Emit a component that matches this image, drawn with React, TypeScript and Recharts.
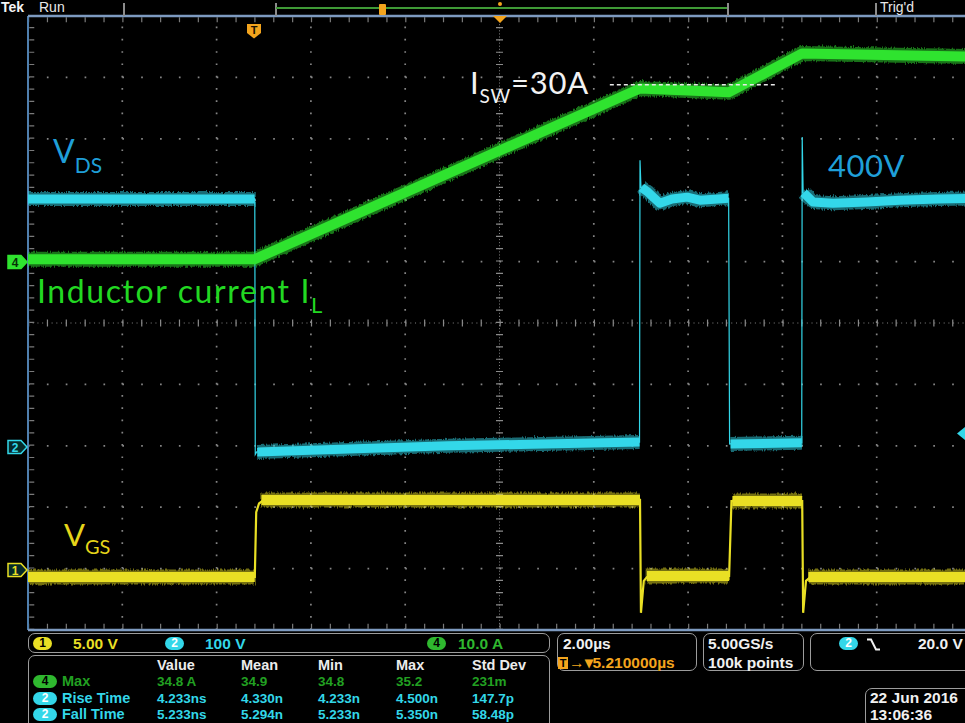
import { ComposedChart, Line, ReferenceLine, XAxis, YAxis } from "recharts";

const CH1 = "#e9df24";
const CH2 = "#33d7e9";
const CH4 = "#2fe32f";
const ORANGE = "#f3a41d";
const FRAME = "#7d9ac0";
const GRID = "#858585";
const BOX = "#9c9c9c";
const UI = '"Liberation Sans", Arial, sans-serif';
const ANNO = 'Lato, "Open Sans", sans-serif';

// 10 x 10 div graticule, 2 us/div, time counted from the left edge of the screen
const gridTimes = [0, 2, 4, 6, 8, 10, 12, 14, 16, 18, 20];
// rows follow the ch1 scale (5 V/div, ground marker 4 div below centre)
const gridVolts = [-5, 0, 5, 10, 15, 20, 25, 30, 35, 40, 45];

const ch1Domain = [-5, 45]; // 5 V/div
const ch2Domain = [-300, 700]; // 100 V/div
const ch4Domain = [-60, 40]; // 10 A/div

// ch1 V_GS (V)
const vgsTime = [0, 4.81, 4.84, 4.9, 5.0, 12.98, 13.0, 13.06, 13.15, 14.87, 14.92, 16.42, 16.44, 16.5, 16.6, 20];
const vgsVolts = [-0.68, -0.68, 4.6, 5.3, 5.59, 5.59, -3.6, -1.0, -0.6, -0.6, 5.5, 5.5, -3.6, -1.0, -0.68, -0.68];
// settled (noisy, thick) parts, null = gap
const vgsBandTime = [0, 4.81, 4.82, 4.95, 12.98, 12.99, 13.12, 14.87, 14.88, 14.94, 16.42, 16.43, 16.55, 20];
const vgsBandVolts = [-0.68, -0.68, null, 5.59, 5.59, null, -0.6, -0.6, null, 5.5, 5.5, null, -0.68, -0.68];

// ch2 V_DS (V)
const vdsTime = [0, 4.81, 4.82, 4.85, 8.9, 12.97, 12.98, 13.0, 13.15, 13.4, 13.66, 13.98, 14.25, 14.86, 14.88, 16.41, 16.42, 16.44, 16.65, 17.07, 17.79, 18.49, 19.3, 20];
const vdsVolts = [402, 402, -14, -10, 0, 6, 465, 421, 413, 395, 402, 405, 400, 403, 3, 5, 503, 412, 397, 395, 397, 400, 402, 403];
const vdsBandTime = [0, 4.81, 4.83, 4.86, 8.9, 12.97, 12.99, 13.01, 13.15, 13.4, 13.66, 13.98, 14.25, 14.86, 14.87, 14.9, 16.41, 16.42, 16.45, 16.65, 17.07, 17.79, 18.49, 19.3, 20];
const vdsBandVolts = [402, 402, null, -10, 0, 6, null, 421, 413, 395, 402, 405, 400, 403, null, 3, 5, null, 412, 397, 395, 397, 400, 402, 403];

// ch4 inductor current (A)
const ilTime = [0, 4.81, 12.98, 14.87, 16.42, 20];
const ilAmps = [0.4, 0.4, 28.2, 27.6, 33.9, 33.4];

// I_SW marker line
const iswAmps = 28.8;
const iswFrom = 12.34;
const iswTo = 15.84;

// measurement table
const measHeaders = ["Value", "Mean", "Min", "Max", "Std Dev"];
const measLabels = ["Max", "Rise Time", "Fall Time"];
const measChannels = ["4", "2", "2"];
const maxValues = ["34.8 A", "34.9", "34.8", "35.2", "231m"];
const riseValues = ["4.233ns", "4.330n", "4.233n", "4.500n", "147.7p"];
const fallValues = ["5.233ns", "5.294n", "5.233n", "5.350n", "58.48p"];
const measColX = [157, 241, 318, 396, 472];
const measRowY = [674, 691, 707];

const zip = (ts: number[], vs: (number | null)[]) => ts.map((t, i) => ({ t, v: vs[i] }));

function Txt({ x, y, c = "#eee", s = 15.5, w = 700, f = UI, ls = 0, children }: any) {
  return (
    <div style={{ position: "absolute", left: x, top: y, color: c, fontSize: s, fontWeight: w, fontFamily: f, letterSpacing: ls, lineHeight: 1, whiteSpace: "nowrap" }}>
      {children}
    </div>
  );
}

function Box({ x, y, w, h }: any) {
  return (
    <div style={{ position: "absolute", left: x, top: y, width: w, height: h, border: `1.5px solid ${BOX}`, borderRadius: 7, boxSizing: "border-box" }} />
  );
}

function Badge({ x, y, w = 19, h = 13, bg, fg = "#000", label }: any) {
  return (
    <div style={{ position: "absolute", left: x, top: y, width: w, height: h, borderRadius: h / 2, background: bg, color: fg, fontFamily: UI, fontWeight: 700, fontSize: 12, lineHeight: `${h}px`, textAlign: "center" }}>
      {label}
    </div>
  );
}

function ChMarker({ y, color, label, filled }: any) {
  return (
    <svg style={{ position: "absolute", left: 7, top: y - 8 }} width={22} height={16}>
      <path d="M1,1.5 H14 L20,8 L14,14.5 H1 Z" fill={filled ? color : "#062a2a"} stroke={color} strokeWidth={1.5} />
      <text x={8} y={12.5} fontSize={12} fontWeight={700} fontFamily={UI} textAnchor="middle" fill={filled ? "#063006" : color}>
        {label}
      </text>
    </svg>
  );
}

function band(key: string, axis: string, data: any[], color: string, width: number) {
  return [
    <Line key={key + "o"} yAxisId={axis} data={data} dataKey="v" type="linear" stroke={color} strokeOpacity={0.5} strokeWidth={width + 5} strokeLinejoin="round" filter="url(#scopeNoise)" dot={false} activeDot={false} isAnimationActive={false} />,
    <Line key={key + "c"} yAxisId={axis} data={data} dataKey="v" type="linear" stroke={color} strokeWidth={width} strokeLinejoin="round" dot={false} activeDot={false} isAnimationActive={false} />,
  ];
}

function thin(key: string, axis: string, data: any[], color: string, width: number) {
  return <Line key={key} yAxisId={axis} data={data} dataKey="v" type="linear" stroke={color} strokeWidth={width} dot={false} activeDot={false} isAnimationActive={false} />;
}

export default function App() {
  const vgs = zip(vgsTime, vgsVolts);
  const vgsBand = zip(vgsBandTime, vgsBandVolts);
  const vds = zip(vdsTime, vdsVolts);
  const vdsBand = zip(vdsBandTime, vdsBandVolts);
  const il = zip(ilTime, ilAmps);
  const measValues = [maxValues, riseValues, fallValues];
  const innerTimes = gridTimes.filter((t) => t > 0 && t < 20 && t !== 10);
  const innerVolts = gridVolts.filter((v) => v > -5 && v < 45 && v !== 20);

  return (
    <div style={{ position: "fixed", left: 0, top: 0, width: 965, height: 723, background: "#000", overflow: "hidden", fontFamily: UI }}>
      <svg width={0} height={0} style={{ position: "absolute" }}>
        <defs>
          <filter id="scopeNoise" x="-5%" y="-40%" width="110%" height="180%">
            <feTurbulence type="fractalNoise" baseFrequency="0.9 0.08" numOctaves={2} seed={3} result="n" />
            <feDisplacementMap in="SourceGraphic" in2="n" scale={5} xChannelSelector="R" yChannelSelector="G" />
          </filter>
        </defs>
      </svg>
      <div style={{ position: "absolute", left: 0, top: 0 }}>
        <ComposedChart width={975} height={723} margin={{ top: 16, right: 4, bottom: 93, left: 28 }}>
          <XAxis type="number" dataKey="t" domain={[0, 20]} allowDataOverflow hide />
          <YAxis yAxisId="ch1" type="number" domain={ch1Domain} allowDataOverflow hide />
          <YAxis yAxisId="ch2" type="number" domain={ch2Domain} allowDataOverflow hide />
          <YAxis yAxisId="ch4" type="number" domain={ch4Domain} allowDataOverflow hide />

          {/* dotted graticule */}
          {innerTimes.map((t) => (
            <ReferenceLine key={"gx" + t} yAxisId="ch1" x={t} stroke={GRID} strokeWidth={1.7} strokeDasharray="1.7 10.58" />
          ))}
          {innerVolts.map((v) => (
            <ReferenceLine key={"gy" + v} yAxisId="ch1" y={v} stroke={GRID} strokeWidth={1.7} strokeDasharray="1.7 17.16" />
          ))}

          {/* centre cross with minor ticks */}
          <ReferenceLine yAxisId="ch1" x={10} stroke={GRID} strokeWidth={1} strokeDasharray="1 2.07" />
          <ReferenceLine yAxisId="ch1" x={10} stroke="#8a8a8a" strokeWidth={7} strokeDasharray="1.2 11.08" />
          <ReferenceLine yAxisId="ch1" y={20} stroke={GRID} strokeWidth={1} strokeDasharray="1 3.72" />
          <ReferenceLine yAxisId="ch1" y={20} stroke="#8a8a8a" strokeWidth={7} strokeDasharray="1.2 17.66" />

          {/* frame and its ticks */}
          <ReferenceLine yAxisId="ch1" x={0.08} stroke="#7a7a7a" strokeWidth={5} strokeDasharray="1.2 11.08" />
          <ReferenceLine yAxisId="ch1" y={44.7} stroke="#7a7a7a" strokeWidth={5} strokeDasharray="1.2 17.66" />
          <ReferenceLine yAxisId="ch1" y={-4.7} stroke="#7a7a7a" strokeWidth={5} strokeDasharray="1.2 17.66" />
          <ReferenceLine yAxisId="ch1" x={0} stroke="#4f7fae" strokeWidth={2} />
          <ReferenceLine yAxisId="ch1" y={45} stroke={FRAME} strokeWidth={2.5} />
          <ReferenceLine yAxisId="ch1" y={-5} stroke={FRAME} strokeWidth={2.5} />

          {thin("vgsPath", "ch1", vgs, CH1, 2.2)}
          {band("vgsBand", "ch1", vgsBand, CH1, 10)}
          {thin("vdsPath", "ch2", vds, CH2, 1.2)}
          {band("vdsBand", "ch2", vdsBand, CH2, 9)}
          {band("il", "ch4", il, CH4, 10)}

          <ReferenceLine yAxisId="ch4" segment={[{ x: iswFrom, y: iswAmps }, { x: iswTo, y: iswAmps }]} stroke="#e8e8e8" strokeWidth={1.3} strokeDasharray="4 3" />
        </ComposedChart>
      </div>

      {/* status bar */}
      <Txt x={1} y={0} s={14} c="#f4f4f4">Tek</Txt>
      <Txt x={39} y={0} s={14} w={400} c="#e8e8e8">Run</Txt>
      <Txt x={880} y={0} s={14} w={400} c="#e8e8e8">Trig'd</Txt>
      <div style={{ position: "absolute", left: 123, top: 3, width: 1.5, height: 13, background: "#8c8c8c" }} />
      <div style={{ position: "absolute", left: 275, top: 3, width: 1.5, height: 13, background: "#8c8c8c" }} />
      <div style={{ position: "absolute", left: 727, top: 3, width: 1.5, height: 13, background: "#8c8c8c" }} />
      <div style={{ position: "absolute", left: 875, top: 3, width: 1.5, height: 13, background: "#8c8c8c" }} />
      <div style={{ position: "absolute", left: 276, top: 7, width: 451, height: 1.5, background: "#3f9a36" }} />
      <div style={{ position: "absolute", left: 379, top: 4, width: 7, height: 11, background: ORANGE, borderRadius: 1 }} />
      <div style={{ position: "absolute", left: 498, top: 2, width: 4, height: 4, background: ORANGE, borderRadius: 2 }} />
      <svg style={{ position: "absolute", left: 493, top: 16 }} width={14} height={8}>
        <path d="M0,0 H14 L7,7 Z" fill={ORANGE} />
      </svg>
      <svg style={{ position: "absolute", left: 246, top: 23 }} width={16} height={16}>
        <path d="M1,1 H15 V10 L8,15.5 L1,10 Z" fill={ORANGE} />
        <text x={8} y={11} fontSize={11} fontWeight={700} fontFamily={UI} textAnchor="middle" fill="#1a1000">T</text>
      </svg>

      {/* channel markers */}
      <ChMarker y={262} color={CH4} label="4" filled />
      <ChMarker y={447} color={CH2} label="2" />
      <ChMarker y={570} color={CH1} label="1" />
      <svg style={{ position: "absolute", left: 956, top: 427 }} width={9} height={13}>
        <path d="M9,0 L1,6.5 L9,13 Z" fill={CH2} />
      </svg>

      {/* annotations */}
      <Txt x={53} y={134.6} s={32} w={400} f={ANNO} c="#1f9fd8">
        V<span style={{ fontSize: 21, position: "relative", top: 10 }}>DS</span>
      </Txt>
      <Txt x={37} y={274.6} s={32} w={400} f={ANNO} ls={1.6} c="#22d822">
        Inductor current I<span style={{ fontSize: 22, position: "relative", top: 10 }}>L</span>
      </Txt>
      <Txt x={470} y={66.7} s={31} w={400} f={ANNO} ls={0.8} c="#f2f2f2">
        I<span style={{ fontSize: 19, position: "relative", top: 9 }}>SW</span>=30A
      </Txt>
      <Txt x={828} y={149.7} s={31} w={400} f={ANNO} ls={0.5} c="#1f9fd8">400V</Txt>
      <Txt x={64} y={518.7} s={31} w={400} f={ANNO} c="#e6d51a">
        V<span style={{ fontSize: 20, position: "relative", top: 8 }}>GS</span>
      </Txt>

      {/* channel scale row */}
      <Box x={28} y={633} w={522} h={20} />
      <Badge x={33} y={637} bg={CH1} label="1" />
      <Txt x={73} y={636} c={CH1}>5.00 V</Txt>
      <Badge x={165} y={637} bg={CH2} fg="#fff" label="2" />
      <Txt x={205} y={636} c={CH2}>100 V</Txt>
      <Badge x={427} y={637} bg="#2fb82f" label="4" />
      <Txt x={458} y={636} c="#2fb82f">10.0 A</Txt>

      {/* timebase / acquisition / trigger */}
      <Box x={557} y={633} w={140} h={38} />
      <Txt x={563} y={636} c="#f0f0f0">2.00µs</Txt>
      <div style={{ position: "absolute", left: 558, top: 657, width: 10, height: 12, background: ORANGE, color: "#000", fontSize: 11, fontWeight: 700, lineHeight: "12px", textAlign: "center", fontFamily: UI }}>T</div>
      <Txt x={569} y={655} c={ORANGE}>→▾5.210000µs</Txt>
      <Box x={703} y={633} w={101} h={38} />
      <Txt x={708} y={636} c="#f0f0f0">5.00GS/s</Txt>
      <Txt x={708} y={655} c="#f0f0f0">100k points</Txt>
      <Box x={810} y={633} w={170} h={38} />
      <Badge x={839} y={637} bg={CH2} fg="#fff" label="2" />
      <svg style={{ position: "absolute", left: 867, top: 638 }} width={13} height={13}>
        <path d="M0,1.5 H4 L9,11.5 H13" stroke="#f0f0f0" strokeWidth={2} fill="none" />
      </svg>
      <Txt x={918} y={636} c="#f0f0f0">20.0 V</Txt>

      {/* measurements */}
      <Box x={28} y={655} w={522} h={80} />
      {measHeaders.map((h, i) => (
        <Txt key={h} x={measColX[i]} y={658} s={14.5} c="#ececec">{h}</Txt>
      ))}
      {measLabels.map((lab, r) => {
        const color = measChannels[r] === "4" ? "#22a022" : CH2;
        return (
          <div key={lab}>
            <Badge x={33} y={measRowY[r] + 1} w={24} h={13} bg={measChannels[r] === "4" ? "#2fb82f" : CH2} fg={measChannels[r] === "4" ? "#000" : "#fff"} label={measChannels[r]} />
            <Txt x={62} y={measRowY[r]} s={14.5} c={color}>{lab}</Txt>
            {measValues[r].map((v, i) => (
              <Txt key={i} x={measColX[i]} y={measRowY[r] + 1} s={13.5} c={color}>{v}</Txt>
            ))}
          </div>
        );
      })}

      {/* date */}
      <Box x={865} y={688} w={120} h={40} />
      <Txt x={870} y={690} c="#f0f0f0">22 Jun 2016</Txt>
      <Txt x={870} y={707} c="#f0f0f0">13:06:36</Txt>
    </div>
  );
}
